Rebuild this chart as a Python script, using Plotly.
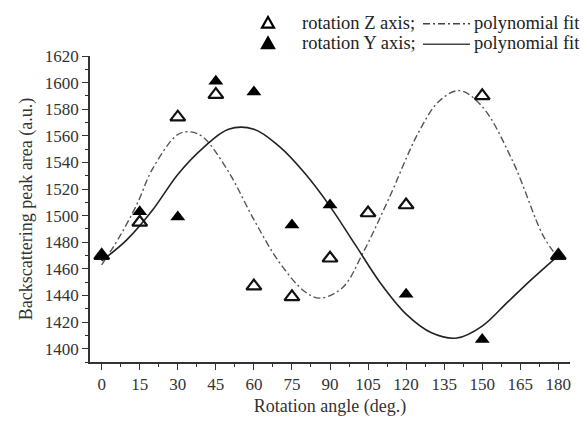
import plotly.graph_objects as go

# --- data ---
angles_z = [0, 15, 30, 45, 60, 75, 90, 105, 120, 150, 180]
area_z = [1470, 1495, 1574, 1591, 1447, 1439, 1468, 1502, 1508, 1590, 1470]

angles_y = [0, 15, 30, 45, 60, 75, 90, 120, 150, 180]
area_y = [1470, 1503, 1499, 1601, 1593, 1493, 1508, 1441, 1407, 1470]

fit_z_x = [0, 7, 14, 20, 30, 35, 40, 50, 60, 70, 80, 86, 95, 103, 113, 125, 133, 141, 150, 162, 174, 180]
fit_z_y = [1463, 1484, 1509, 1535, 1561, 1563, 1559, 1533, 1497, 1465, 1443, 1438, 1446, 1472, 1512, 1563, 1586, 1594, 1582, 1541, 1485, 1468]

fit_y_x = [0, 10, 20, 30, 40, 50, 60, 70, 80, 90, 100, 110, 120, 130, 140, 150, 160, 170, 180]
fit_y_y = [1466, 1482, 1504, 1531, 1551, 1565, 1565, 1552, 1532, 1507, 1478, 1449, 1426, 1412, 1408, 1417, 1435, 1453, 1470]

x_ticks = list(range(0, 181, 15))
y_ticks = list(range(1400, 1621, 20))

FONT = "Liberation Serif, Times New Roman, DejaVu Serif, serif"
fig = go.Figure()

fig.add_trace(go.Scatter(x=fit_z_x, y=fit_z_y, mode="lines", line_shape="spline",
                         line=dict(color="#555555", width=1.4, dash="7px,3px,2px,3px"),
                         showlegend=False, hoverinfo="skip"))
fig.add_trace(go.Scatter(x=fit_y_x, y=fit_y_y, mode="lines", line_shape="spline",
                         line=dict(color="#222222", width=1.6),
                         showlegend=False, hoverinfo="skip"))
fig.add_trace(go.Scatter(x=angles_z, y=area_z, mode="markers",
                         marker=dict(symbol="triangle-up-open", size=13, color="#111111",
                                     line=dict(width=2.2, color="#111111")),
                         showlegend=False))
fig.add_trace(go.Scatter(x=angles_y, y=area_y, mode="markers",
                         marker=dict(symbol="triangle-up", size=13, color="#000000"),
                         showlegend=False))

W, H = 585, 425
L, R, T, B = 90, 15, 56, 56
pw, ph = W - L - R, H - T - B

def px2paper(px, py):
    return (px - L) / pw, (H - B - py) / ph

shapes = []
annotations = []
for (py, label, filled, dash) in [
        (22, "rotation Z axis;", False, "7px,3px,2px,3px"),
        (43, "rotation Y axis;", True, "solid")]:
    cx, cy = 268, py
    pts = [(cx - 6, cy + 5), (cx + 6, cy + 5), (cx, cy - 6)]
    pp = [px2paper(*p) for p in pts]
    path = "M {} {} L {} {} L {} {} Z".format(pp[0][0], pp[0][1], pp[1][0], pp[1][1], pp[2][0], pp[2][1])
    shapes.append(dict(type="path", xref="paper", yref="paper", path=path,
                       fillcolor="#000000" if filled else "rgba(0,0,0,0)",
                       line=dict(color="#000000", width=2.2)))
    ax, ay = px2paper(300, py)
    annotations.append(dict(xref="paper", yref="paper", x=ax, y=ay,
                            text=label, showarrow=False, xanchor="left", yanchor="middle",
                            font=dict(family=FONT, size=18.5, color="#222222")))
    x0, y0 = px2paper(423, py + 1)
    x1, _ = px2paper(470, py + 1)
    shapes.append(dict(type="line", xref="paper", yref="paper", x0=x0, x1=x1, y0=y0, y1=y0,
                       line=dict(color="#444444", width=1.4, dash=dash)))
    bx, by = px2paper(472, py)
    annotations.append(dict(xref="paper", yref="paper", x=bx, y=by,
                            text="polynomial fit", showarrow=False, xanchor="left", yanchor="middle",
                            font=dict(family=FONT, size=18.5, color="#222222")))

fig.update_layout(
    width=W, height=H,
    margin=dict(l=L, r=R, t=T, b=B),
    paper_bgcolor="white", plot_bgcolor="white",
    font=dict(family=FONT, size=17, color="#333333"),
    shapes=shapes, annotations=annotations,
    xaxis=dict(range=[-4.6, 184.6], tickmode="array", tickvals=x_ticks,
               showline=True, linecolor="#333333", linewidth=1.5,
               ticks="outside", ticklen=6, tickwidth=1.3, tickcolor="#333333",
               minor=dict(ticks="outside", ticklen=3, tickwidth=1.2, tickcolor="#333333", dtick=7.5, tick0=0),
               showgrid=False, zeroline=False, mirror=False,
               title=dict(text="Rotation angle (deg.)", font=dict(family=FONT, size=18), standoff=6)),
    yaxis=dict(range=[1390, 1620], tickmode="array", tickvals=y_ticks,
               showline=True, linecolor="#333333", linewidth=1.5,
               ticks="outside", ticklen=6, tickwidth=1.3, tickcolor="#333333",
               minor=dict(ticks="outside", ticklen=3, tickwidth=1.2, tickcolor="#333333", dtick=10, tick0=1400),
               showgrid=False, zeroline=False, mirror=False,
               title=dict(text="Backscattering peak area (a.u.)", font=dict(family=FONT, size=18), standoff=8)),
)

fig.write_html("out.html")
